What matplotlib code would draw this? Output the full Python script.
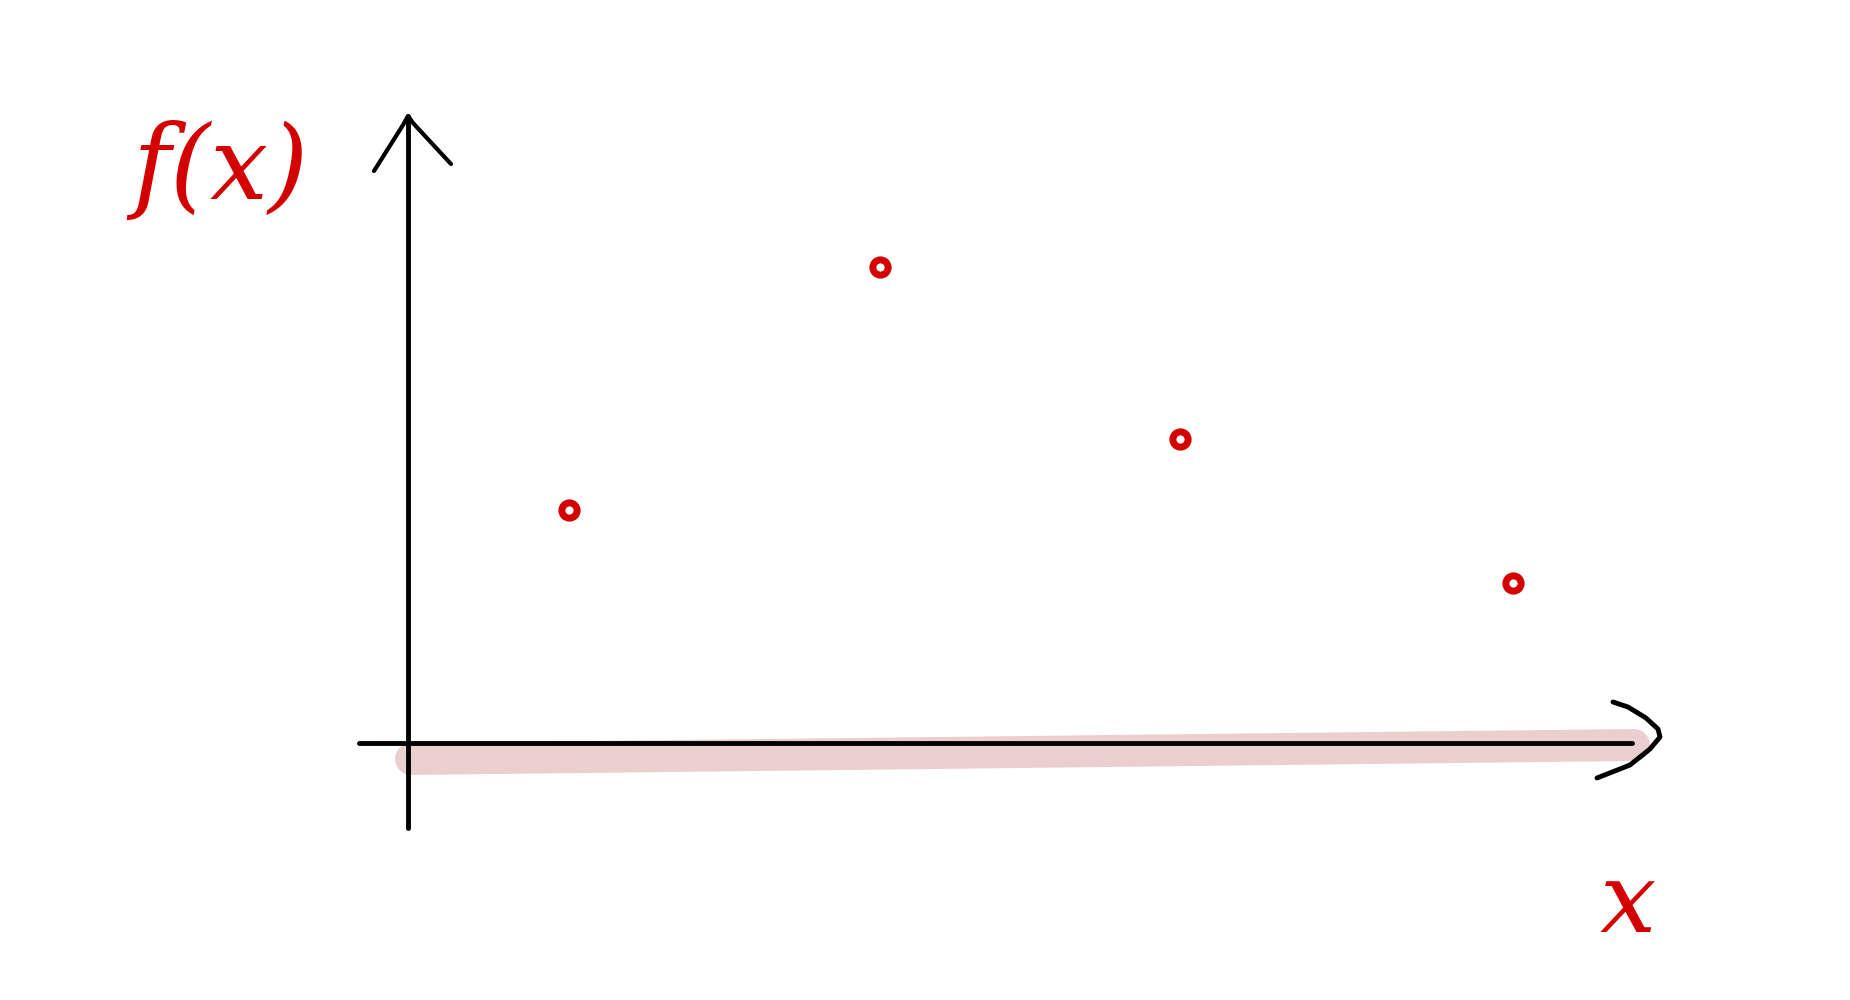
import matplotlib
matplotlib.use("Agg")
import matplotlib.pyplot as plt

# sampled points of f(x)
x_pts = [1.61, 4.72, 7.72, 11.05]
fx_pts = [2.33, 4.76, 3.04, 1.60]

# labels
y_label = "f(x)"
x_label = "x"

red = "#d40000"

fig = plt.figure(figsize=(18.5, 10), dpi=100)
ax = fig.add_axes([0, 0, 1, 1])
ax.set_xlim(-4.08, 14.42)
ax.set_ylim(-2.57, 7.43)
ax.axis("off")

# pink highlight under the x axis
ax.plot([0.03, 12.26], [-0.16, -0.02], color="#ebcfcf", lw=23,
        solid_capstyle="round", zorder=1)

# axes drawn by hand
ax.plot([-0.49, 12.24], [0, 0], color="black", lw=3.5, solid_capstyle="round", zorder=2)
ax.plot([0, 0], [-0.85, 6.27], color="black", lw=3.5, solid_capstyle="round", zorder=2)
# arrow heads
ax.plot([-0.34, -0.05, 0, 0.05, 0.43], [5.72, 6.18, 6.27, 6.2, 5.79], color="black", lw=3,
        solid_capstyle="round", solid_joinstyle="round", zorder=2)
ax.plot([12.05, 12.2, 12.38, 12.5, 12.52, 12.42, 12.22, 11.89],
        [0.41, 0.36, 0.25, 0.14, 0.06, -0.06, -0.22, -0.35],
        color="black", lw=3.5, solid_capstyle="round", solid_joinstyle="round", zorder=2)

# points
ax.plot(x_pts, fx_pts, linestyle="none", marker="o", markersize=11,
        markerfacecolor="white", markeredgecolor=red, markeredgewidth=5, zorder=3)

# labels
ax.text(-1.88, 5.73, y_label, color=red, fontsize=74, style="italic",
        family="DejaVu Serif", ha="center", va="center")
ax.text(12.2, -1.62, x_label, color=red, fontsize=72, style="italic",
        family="DejaVu Serif", ha="center", va="center")

plt.savefig("out.png", dpi=100)
